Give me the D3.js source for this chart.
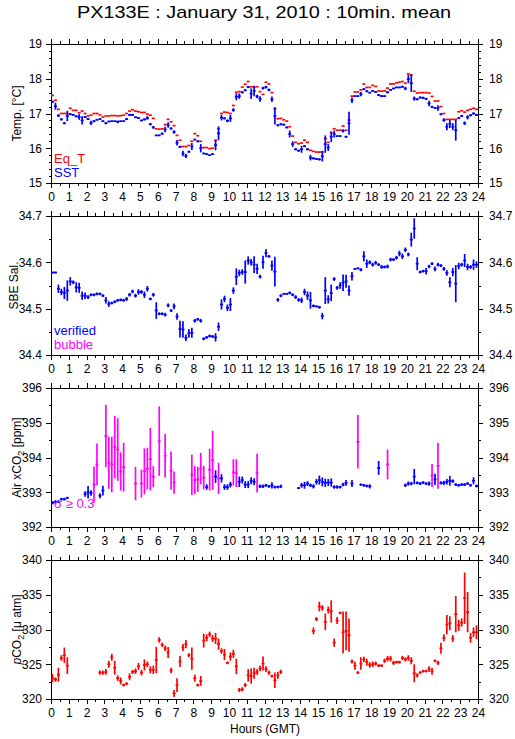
<!DOCTYPE html>
<html>
<head>
<meta charset="utf-8">
<script src="https://cdn.jsdelivr.net/npm/d3@7"></script>
<style>
  body { margin: 0; background: #fff; }
  svg { font-family: "Liberation Sans", Arial, Helvetica, sans-serif; }
  .axis path { display: none; }
  .axis line { stroke: #000; shape-rendering: crispEdges; }
  .axis text { font-size: 12px; fill: #000; }
  .frame { fill: none; stroke: #000; shape-rendering: crispEdges; }
  .mark { fill: none; stroke-width: 1.7; }
</style>
</head>
<body>
<svg id="chart" width="515" height="739"></svg>
<script>
// 10 minute means, one value per slot (6 per hour), null = no data

var eqT = [
  17.52, 17.38, 17.12, 17.00, 17.00, 17.00,
  17.15, 17.09, 17.09, 17.02, 17.07, 17.00,
  16.93, 16.95, 17.00, 17.00, 16.96, 16.90,
  16.93, 16.93, 16.94, 16.94, 16.93, 16.94,
  16.95, 17.00, 17.07, 17.11, 17.07, 17.05,
  17.03, 17.03, 16.98, 16.95, 16.86, 16.56,
  16.55, 16.56, 16.68, 16.83, 16.76, 16.65,
  16.37, 16.23, 16.05, 16.05, 16.08, 16.20,
  16.42, 16.36, 16.20, 16.02, 16.02, 15.99,
  16.00, 16.23, 16.56, 17.00, 17.04, 17.03,
  17.00, 17.23, 17.61, 17.63, 17.76, 17.84,
  17.92, 17.77, 17.76, 17.77, 17.63, 17.55,
  17.90, 17.85, 17.60, 17.14, 16.85, 16.86,
  16.82, 16.78, 16.62, 16.35, 16.17, 16.13,
  16.15, 16.23, 16.17, 15.94, 15.91, 15.89,
  15.89, 15.89, 16.28, 16.17, 16.45, 16.56,
  16.52, 16.52, 16.64, 16.52, 16.81, 17.50,
  17.62, 17.62, 17.68, 17.85, 17.75, 17.75,
  17.81, 17.78, 17.65, 17.64, 17.65, 17.73,
  17.85, 17.85, 17.88, 17.90, 17.92, 17.87,
  18.14, 18.11, 17.64, 17.59, 17.60, 17.60,
  17.60, 17.59, 17.49, 17.36, 17.36, 17.20,
  17.00, 16.83, 16.83, 16.83, 16.83, 17.05,
  17.08, 17.04, 17.09, 17.12, 17.15, 17.12
];

var sst = [
  17.34, 17.21, 16.94, 16.83, 16.72, 16.93,
  16.98, 16.96, 16.92, 16.90, 16.80, 16.90,
  16.84, 16.73, 16.78, 16.82, 16.84, 16.78,
  16.72, 16.77, 16.78, 16.78, 16.76, 16.78,
  16.78, 16.84, 16.96, 16.96, 16.89, 16.87,
  16.80, 16.83, 16.87, 16.69, 16.60, 16.37,
  16.37, 16.42, 16.54, 16.67, 16.57, 16.47,
  16.16, 16.04, 15.85, 15.78, 15.90, 16.05,
  16.25, 16.20, 16.00, 15.85, 15.83, 15.80,
  15.83, 16.09, 16.43, 16.88, 16.86, 16.79,
  16.86, 17.10, 17.48, 17.50, 17.61, 17.67,
  17.76, 17.57, 17.65, 17.49, 17.42, 17.73,
  17.76, 17.68, 17.41, 16.93, 16.66, 16.69,
  16.68, 16.60, 16.41, 16.12, 15.97, 15.93,
  15.97, 16.06, 15.97, 15.73, 15.71, 15.69,
  15.68, 15.77, 16.12, 16.02, 16.33, 16.41,
  16.35, 16.35, 16.50, 16.33, 16.72, 17.38,
  17.50, 17.50, 17.56, 17.70, 17.64, 17.60,
  17.65, 17.62, 17.53, 17.50, 17.50, 17.61,
  17.68, 17.72, 17.75, 17.75, 17.77, 17.72,
  17.99, 17.87, 17.43, 17.41, 17.46, 17.45,
  17.42, 17.29, 17.19, 17.16, 17.16, 16.98,
  16.81, 16.62, 16.70, 16.62, 16.52, 16.87,
  16.93, 16.72, 16.89, 16.95, 17.00, 16.96
];

var sstSd = [
  .03, .10, .04, .03, .03, .15,
  .03, .02, .03, .08, .12, .03,
  .03, .06, .03, .02, .02, .02,
  .03, .02, .01, .01, .04, .01,
  .01, .03, .03, .03, .02, .02,
  .02, .03, .05, .03, .04, .02,
  .02, .03, .08, .08, .03, .05,
  .08, .03, .08, .06, .03, .10,
  .02, .03, .12, .02, .02, .02,
  .02, .15, .20, .08, .03, .04,
  .10, .05, .10, .08, .03, .03,
  .03, .15, .15, .05, .08, .04,
  .04, .04, .08, .25, .03, .03,
  .03, .03, .10, .08, .03, .03,
  .10, .03, .03, .08, .03, .03,
  .03, .15, .25, .10, .15, .10,
  .02, .02, .05, .03, .33, .08,
  .02, .02, .06, .03, .03, .02,
  .02, .02, .03, .03, .02, .03,
  .02, .02, .02, .02, .03, .05,
  .12, .25, .06, .03, .03, .03,
  .03, .08, .03, .03, .08, .03,
  .05, .10, .12, .10, .30, .03,
  .03, .05, .06, .03, .03, .03
];

var sal = [
  34.578, 34.578, 34.543, 34.536, 34.534, 34.539,
  34.559, 34.557, 34.546, 34.545, 34.528, 34.528,
  34.525, 34.530, 34.530, 34.532, 34.532, 34.528,
  34.518, 34.510, 34.512, 34.515, 34.518, 34.519,
  34.518, 34.521, 34.530, 34.537, 34.528, 34.536,
  34.536, 34.530, 34.543, 34.521, 34.530, 34.496,
  34.489, 34.489, 34.487, 34.507, 34.496, 34.505,
  34.483, 34.456, 34.455, 34.437, 34.447, 34.448,
  34.474, 34.477, 34.474, 34.435, 34.438, 34.441,
  34.440, 34.438, 34.461, 34.509, 34.521, 34.502,
  34.509, 34.539, 34.569, 34.577, 34.579, 34.579,
  34.604, 34.600, 34.595, 34.586, 34.569, 34.600,
  34.620, 34.613, 34.593, 34.580, 34.519, 34.528,
  34.532, 34.532, 34.534, 34.530, 34.525, 34.519,
  34.518, 34.536, 34.528, 34.518, 34.506, 34.505,
  34.503, 34.484, 34.539, 34.520, 34.534, 34.564,
  34.545, 34.550, 34.556, 34.559, 34.539, 34.570,
  34.586, 34.587, 34.584, 34.613, 34.597, 34.600,
  34.595, 34.599, 34.595, 34.590, 34.590, 34.591,
  34.606, 34.606, 34.610, 34.619, 34.613, 34.627,
  34.617, 34.649, 34.673, 34.597, 34.579, 34.581,
  34.581, 34.591, 34.597, 34.586, 34.595, 34.593,
  34.586, 34.577, 34.557, 34.579, 34.554, 34.592,
  34.595, 34.604, 34.590, 34.590, 34.595, 34.595
];

var salSd = [
  .002, .002, .009, .007, .013, .022,
  .009, .004, .011, .011, .009, .007,
  .004, .003, .003, .003, .003, .003,
  .007, .006, .003, .003, .003, .003,
  .003, .004, .004, .004, .004, .006,
  .004, .007, .006, .003, .004, .018,
  .003, .003, .004, .004, .003, .006,
  .007, .018, .018, .007, .009, .011,
  .004, .003, .004, .003, .003, .003,
  .003, .009, .009, .011, .007, .007,
  .014, .007, .018, .007, .006, .025,
  .009, .007, .018, .011, .004, .014,
  .009, .003, .011, .032, .004, .003,
  .002, .002, .003, .003, .004, .004,
  .006, .007, .009, .018, .003, .002,
  .003, .007, .029, .009, .018, .004,
  .004, .007, .018, .014, .011, .009,
  .002, .002, .003, .011, .009, .004,
  .004, .004, .003, .004, .003, .004,
  .004, .003, .004, .006, .006, .005,
  .004, .015, .022, .014, .003, .003,
  .007, .004, .003, .005, .004, .003,
  .004, .006, .011, .009, .040, .007,
  .004, .014, .007, .004, .011, .007
];

var xco2 = [
  392.70, 392.72, 392.73, 392.80, 392.80, 392.84,
  null, null, null, null, null, 392.95,
  393.00, 392.98, 393.22, 393.80, 392.90, 393.05,
  394.62, 393.85, 393.80, 394.30, 394.23, 393.60,
  393.72, null, null, null, 393.25, null,
  393.25, 393.60, 393.68, 393.95, 393.45, null,
  394.47, null, 394.05, null, 393.62, 393.28,
  null, null, null, null, null, 393.50,
  393.35, 393.37, 393.68, 393.42, 393.15, 393.65,
  393.92, 393.45, 393.40, 393.40, 393.15, 393.15,
  393.22, 393.57, 393.55, 393.30, 393.35, 393.22,
  393.22, 393.33, 393.30, 393.55, 393.17, 393.17,
  393.20, 393.17, 393.20, 393.15, 393.15, 393.17,
  null, null, null, null, null, 393.12,
  393.20, 393.20, 393.25, 393.20, 393.17, 393.30,
  393.35, 393.30, 393.27, 393.28, 393.28, 393.15,
  393.15, 393.15, 393.22, 393.27, null, 393.25,
  null, 394.45, 393.22, 393.20, 393.18, 393.17,
  null, null, 393.70, null, null, 393.80,
  null, null, null, null, null, 393.20,
  393.25, 393.25, 393.45, 393.27, 393.25, 393.28,
  393.25, 393.25, 393.48, 393.37, 393.76, 393.27,
  393.27, 393.30, 393.33, 393.32, 393.22, 393.20,
  393.22, 393.22, 393.25, 393.20, 393.33, 393.18
];

var xco2Sd = [
  .05, .05, .04, .04, .04, .03,
  0, 0, 0, 0, 0, .08,
  .18, .08, .52, .60, .07, .14,
  .90, .75, .80, .90, .90, .55,
  .70, 0, 0, 0, .48, 0,
  .40, .66, .60, .90, .30, 0,
  1.00, 0, .63, 0, .55, .32,
  0, 0, 0, 0, 0, .58,
  .40, .36, .45, .34, .08, .60,
  .85, .18, .45, .12, .08, .08,
  .08, .38, .40, .15, .10, .10,
  .10, .10, .10, .56, .05, .05,
  .04, .04, .09, .04, .04, .05,
  0, 0, 0, 0, 0, .03,
  .07, .10, .07, .05, .06, .08,
  .13, .13, .12, .10, .12, .05,
  .05, .04, .05, .08, 0, .10,
  0, .77, .03, .04, .04, .06,
  0, 0, .20, 0, 0, .43,
  0, 0, 0, 0, 0, .05,
  .06, .05, .22, .04, .04, .04,
  .04, .06, .33, .16, .66, .05,
  .06, .08, .14, .05, .04, .04,
  .04, .04, .04, .04, .10, .04
];

var pco2 = [
  323.0, 322.8, 323.5, 325.9, 326.3, 324.8,
  null, null, null, null, null, null,
  null, null, null, null, 323.8, 323.8,
  323.9, 325.0, 326.0, 324.5, 323.0, 322.6,
  322.0, 322.2, 323.2, 323.9, 324.0, 324.7,
  323.8, 324.9, 325.0, 324.2, 324.2, 325.6,
  328.5, 327.8, 327.3, 326.7, 324.1, 320.8,
  322.0, 325.4, 327.4, 327.9, 326.3, 325.8,
  323.0, 322.0, 322.6, 328.4, 328.8, 329.3,
  328.7, 328.7, 327.9, 326.9, 326.4, 325.2,
  326.1, 326.5, 324.7, 321.3, 321.4, 322.0,
  323.4, 323.3, 323.7, 323.9, 324.4, 325.1,
  324.3, 323.8, 323.3, 322.7, 323.4, 323.9,
  null, null, null, null, null, null,
  null, null, null, null, 329.8, 331.5,
  333.3, 333.1, 331.1, 332.8, 332.6, 328.1,
  331.3, 332.4, 329.6, 329.8, 329.2, 325.4,
  324.8, 323.8, 325.1, 325.7, 325.3, 324.9,
  325.0, 325.1, 324.8, 324.8, 325.5, 325.8,
  325.8, 325.2, 325.3, 325.3, 325.9, 325.7,
  325.9, 325.5, 323.7, 323.4, 323.8, 324.0,
  324.0, 324.3, 324.0, 325.5, 325.2, 327.3,
  328.8, 330.7, 330.9, 328.7, 332.2, 330.6,
  331.0, 334.5, 332.5, 328.8, 329.6, 329.6
];

var pco2Sd = [
  .6, .3, 1.0, .4, 1.1, 1.2,
  0, 0, 0, 0, 0, 0,
  0, 0, 0, 0, .3, .3,
  .4, .5, .5, 1.0, .4, .5,
  .2, .2, .5, .3, .4, .5,
  .4, .8, .4, .5, .6, 1.9,
  .4, .3, .4, .8, .4, .5,
  1.0, .8, .5, .6, .3, 1.6,
  .5, .2, .7, 1.0, .5, .4,
  .5, .8, .8, .4, .8, .2,
  .6, .6, 1.1, .3, .3, .3,
  .9, 1.1, .8, .4, .4, 1.0,
  .4, .3, .2, 1.1, .5, .3,
  0, 0, 0, 0, 0, 0,
  0, 0, 0, 0, .5, .3,
  .7, .4, 1.2, .5, 1.6, .6,
  .5, .2, 3.0, 2.8, 2.4, .3,
  .6, .2, .9, .4, .5, .4,
  .4, .3, .2, .2, .3, .4,
  .4, .3, .2, .2, .3, .3,
  .4, .5, 1.3, .3, .2, .2,
  .2, .4, .5, .2, .3, .8,
  .5, 1.4, 1.0, .5, 2.6, .8,
  .6, 3.7, 2.9, .7, .7, 1.0
];

var hourTicks = d3.range(0, 25);
var halfTicks = d3.range(0.5, 24, 1);

var svg = d3.select("#chart"),
  left = 51, right = 478,
  panelH = 139,
  panelTop = [44, 216, 388, 560];

var x = d3.scaleLinear().domain([0, 24]).range([left, right]);

// slot k covers k*10min .. (k+1)*10min
function slotMid(k) { return (k + 0.5) / 6; }

var panels = [
  { domain: [15, 19], major: 1, minor: 0.2, fmt: d3.format("d") },
  { domain: [34.4, 34.7], major: 0.1, minor: 0.05, fmt: d3.format(".1f") },
  { domain: [392, 396], major: 1, minor: 0.5, fmt: d3.format("d") },
  { domain: [320, 340], major: 5, minor: 2.5, fmt: d3.format("d") }
];

svg.append("text")
  .attr("x", 264)
  .attr("y", 18)
  .attr("text-anchor", "middle")
  .attr("textLength", 374)
  .attr("lengthAdjust", "spacingAndGlyphs")
  .style("font-size", "17px")
  .text("PX133E : January 31, 2010 : 10min. mean");

var ys = panels.map(function(p, i) {
  var top = panelTop[i], bottom = top + panelH;
  var y = d3.scaleLinear().domain(p.domain).range([bottom, top]);
  var majors = d3.range(p.domain[0], p.domain[1] + p.minor / 2, p.major);
  var minors = d3.range(p.domain[0], p.domain[1] + p.minor / 2, p.minor);
  var g = svg.append("g");

  g.append("g").attr("class", "axis")
    .attr("transform", "translate(0," + bottom + ")")
    .call(d3.axisBottom(x).tickValues(hourTicks).tickSize(5).tickPadding(4).tickFormat(d3.format("d")));
  g.append("g").attr("class", "axis")
    .attr("transform", "translate(0," + bottom + ")")
    .call(d3.axisBottom(x).tickValues(halfTicks).tickSize(3).tickFormat(""));
  g.append("g").attr("class", "axis")
    .attr("transform", "translate(0," + top + ")")
    .call(d3.axisTop(x).tickValues(hourTicks).tickSize(5).tickFormat(""));
  g.append("g").attr("class", "axis")
    .attr("transform", "translate(0," + top + ")")
    .call(d3.axisTop(x).tickValues(halfTicks).tickSize(3).tickFormat(""));

  g.append("g").attr("class", "axis")
    .attr("transform", "translate(" + left + ",0)")
    .call(d3.axisLeft(y).tickValues(majors).tickSize(5).tickPadding(4).tickFormat(p.fmt));
  g.append("g").attr("class", "axis")
    .attr("transform", "translate(" + left + ",0)")
    .call(d3.axisLeft(y).tickValues(minors).tickSize(2.5).tickFormat(""));
  g.append("g").attr("class", "axis")
    .attr("transform", "translate(" + right + ",0)")
    .call(d3.axisRight(y).tickValues(majors).tickSize(5).tickPadding(6).tickFormat(p.fmt));
  g.append("g").attr("class", "axis")
    .attr("transform", "translate(" + right + ",0)")
    .call(d3.axisRight(y).tickValues(minors).tickSize(2.5).tickFormat(""));

  g.append("rect").attr("class", "frame")
    .attr("x", left).attr("y", top)
    .attr("width", right - left).attr("height", panelH);

  return y;
});

// horizontal dash for each 10 min mean, vertical bar for +-1 sd
function drawSeries(y, values, sds, color) {
  var pts = values.map(function(v, k) {
    return { k: k, v: v, sd: sds ? sds[k] : 0 };
  }).filter(function(d) { return d.v !== null; });

  var g = svg.append("g");
  g.selectAll(".dash")
    .data(pts)
    .enter().append("line")
    .attr("class", "mark")
    .attr("x1", function(d) { return x(d.k / 6); })
    .attr("x2", function(d) { return x((d.k + 1) / 6); })
    .attr("y1", function(d) { return y(d.v); })
    .attr("y2", function(d) { return y(d.v); })
    .style("stroke", function(d) { return typeof color === "function" ? color(d) : color; });

  if (!sds) return;
  g.selectAll(".bar")
    .data(pts.filter(function(d) { return d.sd > 0; }))
    .enter().append("line")
    .attr("class", "mark")
    .attr("x1", function(d) { return x(slotMid(d.k)); })
    .attr("x2", function(d) { return x(slotMid(d.k)); })
    .attr("y1", function(d) { return y(d.v - d.sd); })
    .attr("y2", function(d) { return y(d.v + d.sd); })
    .style("stroke", function(d) { return typeof color === "function" ? color(d) : color; });
}

drawSeries(ys[0], eqT, null, "#ff0000");
drawSeries(ys[0], sst, sstSd, "#0000ff");
drawSeries(ys[1], sal, salSd, "#0000ff");
drawSeries(ys[2], xco2, xco2Sd, function(d) { return d.sd >= 0.3 ? "#ff00ff" : "#0000ff"; });
drawSeries(ys[3], pco2, pco2Sd, "#ff0000");

// legends
function note(px, py, txt, color) {
  svg.append("text")
    .attr("x", px).attr("y", py)
    .style("font-size", "13px")
    .style("fill", color)
    .text(txt);
}
note(54, 163, "Eq_T", "#ff0000");
note(54, 177, "SST", "#0000ff");
note(54, 335, "verified", "#0000ff");
note(54, 349, "bubble", "#ff00ff");
note(54, 508, "\u03c3 \u2265 0.3", "#ff00ff");

// axis titles
function yTitle(i, px) {
  var cy = panelTop[i] + panelH / 2;
  return svg.append("text")
    .attr("transform", "translate(" + px + "," + cy + ") rotate(-90)")
    .attr("text-anchor", "middle")
    .style("font-size", "12px");
}
yTitle(0, 21).text("Temp. [\u00b0C]");
yTitle(1, 18).text("SBE Sal.");
var t3 = yTitle(2, 21);
t3.append("tspan").text("Air xCO");
t3.append("tspan").attr("dy", 3).style("font-size", "9px").text("2");
t3.append("tspan").attr("dy", -3).text(" [ppm]");
var t4 = yTitle(3, 21);
t4.append("tspan").style("font-style", "italic").text("p");
t4.append("tspan").text("CO");
t4.append("tspan").attr("dy", 3).style("font-size", "9px").text("2");
t4.append("tspan").attr("dy", -3).text(" [\u03bc atm]");

svg.append("text")
  .attr("x", 265).attr("y", 733)
  .attr("text-anchor", "middle")
  .style("font-size", "12px")
  .text("Hours (GMT)");
</script>
</body>
</html>
